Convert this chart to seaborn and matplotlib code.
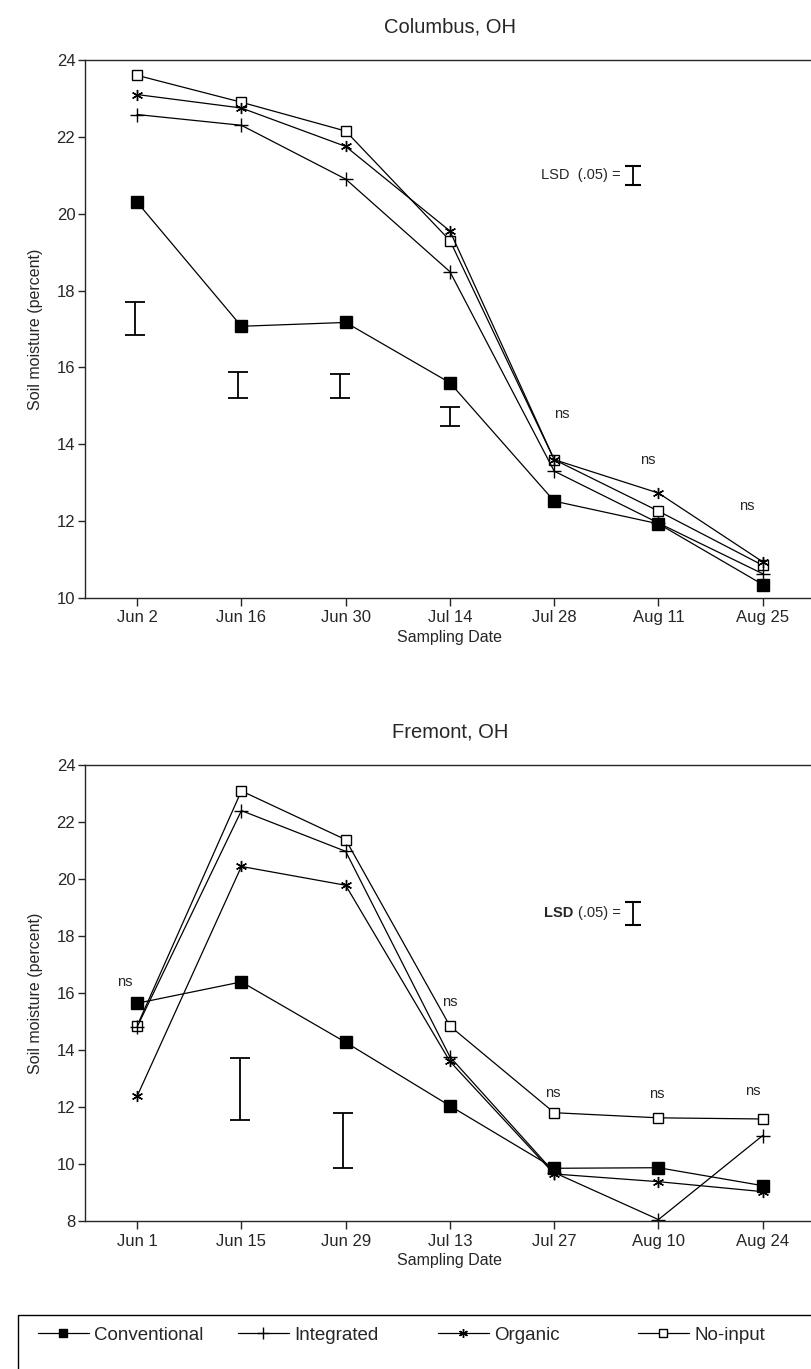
import numpy as np
import pandas as pd
import matplotlib
matplotlib.use("Agg")
import matplotlib.pyplot as plt
import matplotlib.patches as mpatches
import seaborn as sns

# -------------------------
# Data
# -------------------------
treatments = ["Conventional", "Integrated", "Organic", "No-input"]

col_dates = ["Jun 2", "Jun 16", "Jun 30", "Jul 14", "Jul 28", "Aug 11", "Aug 25"]
col_conventional = [20.3, 17.07, 17.17, 15.6, 12.52, 11.93, 10.35]
col_integrated = [22.58, 22.3, 20.9, 18.49, 13.3, 11.95, 10.63]
col_organic = [23.1, 22.75, 21.75, 19.55, 13.6, 12.73, 10.94]
col_noinput = [23.6, 22.9, 22.15, 19.3, 13.6, 12.26, 10.85]
# LSD bars (x index, low, high)
col_lsd_x = [-0.02, 0.97, 1.95, 3.0]
col_lsd_low = [16.85, 15.21, 15.21, 14.47]
col_lsd_high = [17.71, 15.88, 15.84, 14.97]
col_ns_x = [4.07, 4.9, 5.85]
col_ns_y = [14.8, 13.58, 12.4]

fre_dates = ["Jun 1", "Jun 15", "Jun 29", "Jul 13", "Jul 27", "Aug 10", "Aug 24"]
fre_conventional = [15.64, 16.39, 14.27, 12.04, 9.85, 9.87, 9.24]
fre_integrated = [14.81, 22.4, 20.97, 13.76, 9.7, 8.05, 11.0]
fre_organic = [12.38, 20.44, 19.78, 13.6, 9.65, 9.38, 9.03]
fre_noinput = [14.85, 23.09, 21.38, 14.84, 11.8, 11.62, 11.58]
fre_lsd_x = [0.99, 1.97]
fre_lsd_low = [11.53, 9.86]
fre_lsd_high = [13.72, 11.8]
fre_ns_x = [-0.12, 3.0, 3.99, 4.98, 5.9]
fre_ns_y = [16.38, 15.68, 12.5, 12.46, 12.56]

# -------------------------
# Styling
# -------------------------
sns.set_style("ticks")
plt.rcParams["font.family"] = ["Liberation Sans", "DejaVu Sans"]
plt.rcParams["axes.linewidth"] = 1.0

asterisk = (6, 2, 0)
markers = {"Conventional": "s", "Integrated": "+", "Organic": asterisk, "No-input": "s"}
msizes = {"Conventional": 8, "Integrated": 10, "Organic": 8, "No-input": 7}
mfaces = {"Conventional": "black", "Integrated": "black", "Organic": "black", "No-input": "white"}

fig = plt.figure(figsize=(8.11, 13.69), dpi=100)
ax1 = fig.add_axes([0.1048, 0.5632, 0.9, 0.3930])
ax2 = fig.add_axes([0.1048, 0.1081, 0.9, 0.3331])


def draw_panel(ax, dates, series, lsd_x, lsd_low, lsd_high, ns_x, ns_y,
               title, ylim, lsd_pos, bold_lsd):
    x = np.arange(len(dates))
    rows = []
    for name, vals in zip(treatments, series):
        for xi, v in zip(x, vals):
            rows.append({"x": xi, "moisture": v, "treatment": name})
    df = pd.DataFrame(rows)
    for name in treatments[::-1]:
        sub = df[df["treatment"] == name]
        sns.lineplot(data=sub, x="x", y="moisture", ax=ax, color="black",
                     lw=0.9, marker=markers[name], markersize=msizes[name],
                     markerfacecolor=mfaces[name], markeredgecolor="black",
                     markeredgewidth=1.0, label=name, legend=False)
    # LSD bars
    lo = np.array(lsd_low)
    hi = np.array(lsd_high)
    mid = (lo + hi) / 2
    ax.errorbar(lsd_x, mid, yerr=(hi - lo) / 2, fmt="none", ecolor="black",
                elinewidth=1.3, capsize=7, capthick=1.3)
    for xn, yn in zip(ns_x, ns_y):
        ax.text(xn, yn, "ns", ha="center", va="center", fontsize=10.5)
    # LSD key
    lx, ly, lh = lsd_pos
    if bold_lsd:
        ax.text(lx - 0.58, ly, "LSD", ha="right", va="center", fontsize=10.5,
                fontweight="bold")
        ax.text(lx - 0.12, ly, "(.05) =", ha="right", va="center", fontsize=10.5)
    else:
        ax.text(lx - 0.12, ly, "LSD  (.05) =", ha="right", va="center", fontsize=10.5)
    ax.errorbar([lx], [ly], yerr=[lh / 2], fmt="none", ecolor="black",
                elinewidth=1.3, capsize=5.5, capthick=1.5)

    ax.set_xlim(-0.5, 6.5)
    ax.set_ylim(*ylim)
    ax.set_xticks(x)
    ax.set_xticklabels(dates, fontsize=12)
    ax.set_yticks(np.arange(ylim[0], ylim[1] + 1, 2))
    ax.tick_params(axis="y", labelsize=12, length=5, width=1, direction="out", pad=2)
    ax.tick_params(axis="x", length=6, width=1, direction="out", pad=3)
    ax.set_xlabel("Sampling Date", fontsize=11.5, labelpad=3)
    ax.set_ylabel("Soil moisture (percent)", fontsize=11.5, labelpad=10)
    ax.set_title(title, fontsize=14.5, pad=20)
    ax.spines["right"].set_visible(False)
    ax.spines["top"].set_visible(True)


draw_panel(ax1, col_dates,
           [col_conventional, col_integrated, col_organic, col_noinput],
           col_lsd_x, col_lsd_low, col_lsd_high, col_ns_x, col_ns_y,
           "Columbus, OH", (10, 24), (4.76, 21.0, 0.5), False)
draw_panel(ax2, fre_dates,
           [fre_conventional, fre_integrated, fre_organic, fre_noinput],
           fre_lsd_x, fre_lsd_low, fre_lsd_high, fre_ns_x, fre_ns_y,
           "Fremont, OH", (8, 24), (4.76, 18.8, 0.8), True)

# shared legend along the bottom: one open-bottomed box, entries at fixed spots
W, H = 811, 1369
box = mpatches.Rectangle((18 / W, -0.02), 1.0, (H - 1315) / H + 0.02,
                         transform=fig.transFigure, fill=False,
                         edgecolor="black", lw=1.0, clip_on=False)
fig.patches.append(box)

handles, labels = ax1.get_legend_handles_labels()
entry_x = [38, 238, 438, 638]
for t, ex in zip(treatments, entry_x):
    h = handles[labels.index(t)]
    fig.legend([h], [t], loc="center left", bbox_to_anchor=(ex / W, 1 - 1335 / H),
               frameon=False, fontsize=13.5, handlelength=2.7,
               handletextpad=0.3, borderaxespad=0, borderpad=0, markerscale=0.8)

fig.savefig("out.png", dpi=100)
